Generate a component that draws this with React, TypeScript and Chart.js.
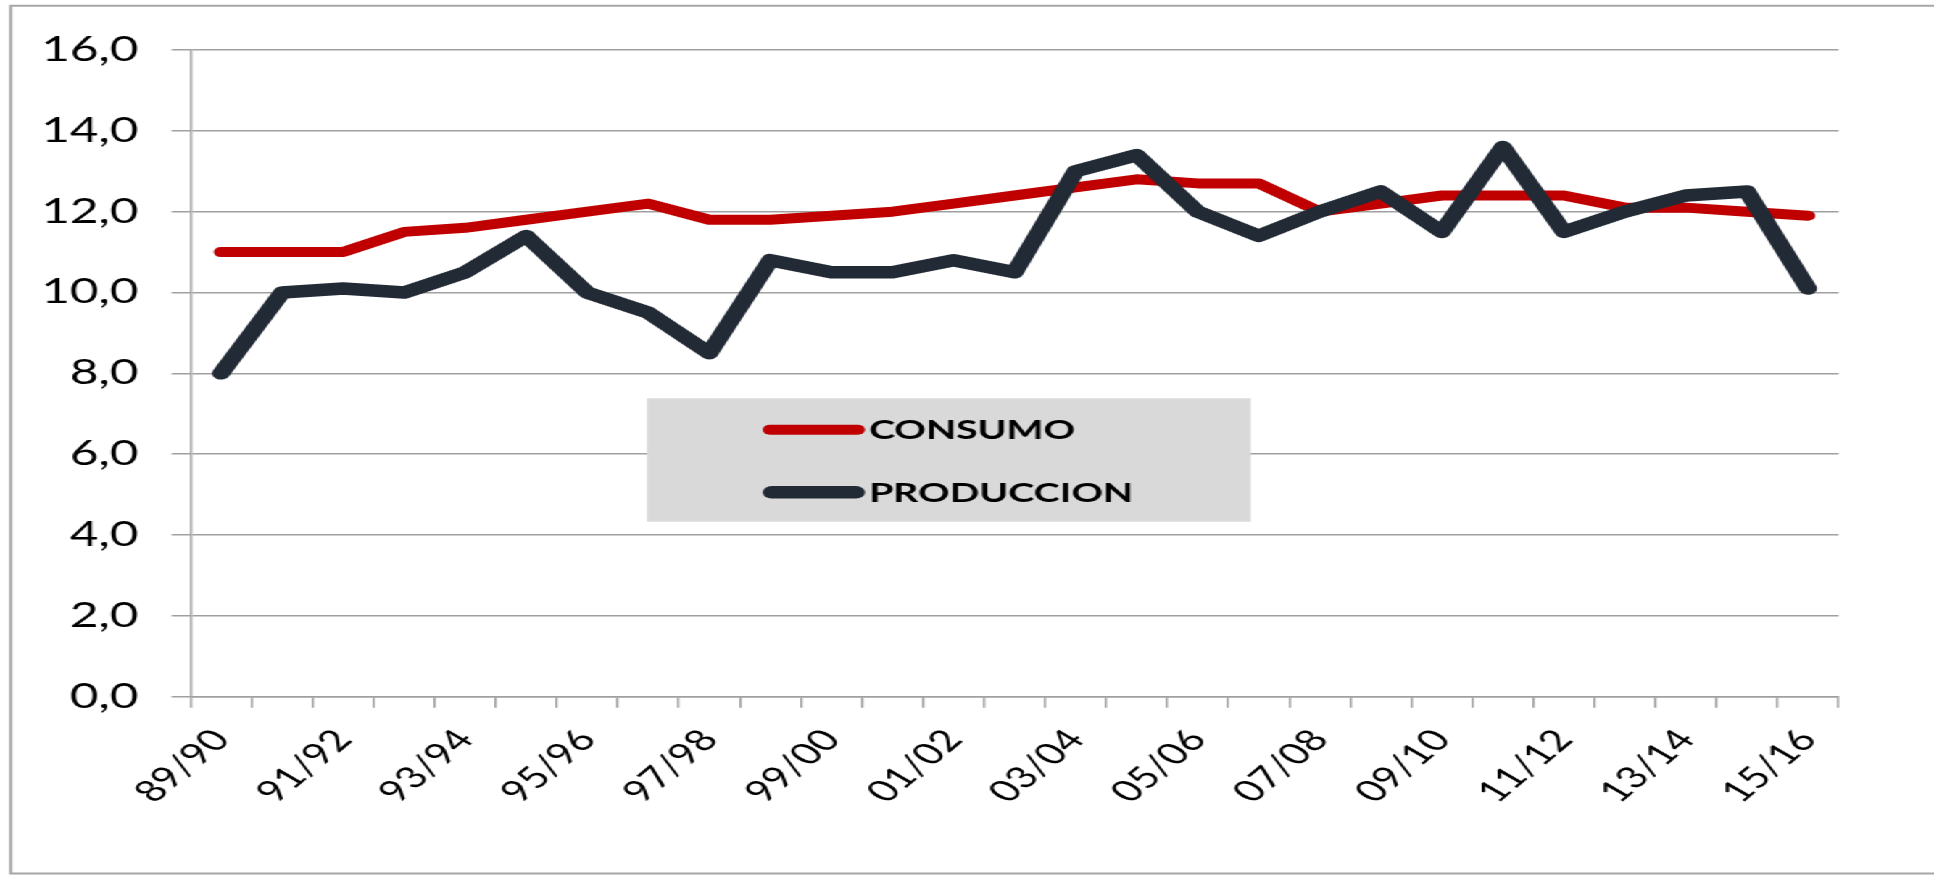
import React, { useEffect, useRef } from 'react';
import { Chart, registerables } from 'chart.js';

Chart.register(...registerables);

// ---- data ----
const categories = [
  '89/90', '90/91', '91/92', '92/93', '93/94', '94/95', '95/96', '96/97', '97/98',
  '98/99', '99/00', '00/01', '01/02', '02/03', '03/04', '04/05', '05/06', '06/07',
  '07/08', '08/09', '09/10', '10/11', '11/12', '12/13', '13/14', '14/15', '15/16',
];
const consumo = [
  11.0, 11.0, 11.0, 11.5, 11.6, 11.8, 12.0, 12.2, 11.8, 11.8, 11.9, 12.0, 12.2, 12.4,
  12.6, 12.8, 12.7, 12.7, 12.0, 12.2, 12.4, 12.4, 12.4, 12.1, 12.1, 12.0, 11.9,
];
const produccion = [
  8.0, 10.0, 10.1, 10.0, 10.5, 11.4, 10.0, 9.5, 8.5, 10.8, 10.5, 10.5, 10.8, 10.5,
  13.0, 13.4, 12.0, 11.4, 12.0, 12.5, 11.5, 13.6, 11.5, 12.0, 12.4, 12.5, 10.1,
];
const seriesNames = ['CONSUMO', 'PRODUCCION'];
const yMin = 0;
const yMax = 16;
const yStep = 2;

// ---- layout (the reference picture is horizontally stretched) ----
const FULL_W = 1934;
const FULL_H = 875;
const INT_W = 1334;
const STRETCH = FULL_W / INT_W;
const ix = (fullX: number) => fullX / STRETCH;

const AREA_LEFT = ix(190.5);
const AREA_RIGHT = ix(1838.6);
const AREA_TOP = 50;
const AREA_BOTTOM = 696.7;

const FONT = 'Lato';

const decorPlugin = {
  id: 'decor',
  beforeDraw(chart: any) {
    const { ctx, width, height } = chart;
    ctx.save();
    ctx.fillStyle = '#ffffff';
    ctx.fillRect(0, 0, width, height);
    ctx.strokeStyle = '#A6A6A6';
    ctx.lineWidth = 2;
    ctx.beginPath();
    ctx.moveTo(width + 10, 5.7);
    ctx.lineTo(ix(10.7), 5.7);
    ctx.lineTo(ix(10.7), 873.5);
    ctx.lineTo(width + 10, 873.5);
    ctx.stroke();
    ctx.restore();
  },
  afterDraw(chart: any) {
    const { ctx } = chart;
    ctx.save();
    const bx0 = ix(647);
    const bx1 = ix(1250.7);
    ctx.fillStyle = '#D9D9D9';
    ctx.fillRect(bx0, 398.3, bx1 - bx0, 521.7 - 398.3);
    const rows = [429.7, 492.3];
    chart.data.datasets.forEach((ds: any, i: number) => {
      const y = rows[i];
      const w = ds.borderWidth;
      ctx.strokeStyle = ds.borderColor;
      ctx.lineWidth = w;
      ctx.lineCap = 'round';
      ctx.beginPath();
      ctx.moveTo(ix(762.7) + w / 2, y);
      ctx.lineTo(ix(865) - w / 2, y);
      ctx.stroke();
      ctx.fillStyle = '#000000';
      ctx.font = `bold 27px ${FONT}`;
      ctx.textAlign = 'left';
      ctx.textBaseline = 'alphabetic';
      ctx.fillText(ds.label, ix(869), y + 9.7);
    });
    ctx.restore();
  },
};

export default function App() {
  const canvasRef = useRef<HTMLCanvasElement | null>(null);

  useEffect(() => {
    const canvas = canvasRef.current;
    if (!canvas) return;
    const gridColor = '#A0A0A0';
    const chart = new Chart(canvas, {
      type: 'line',
      data: {
        labels: categories,
        datasets: [
          {
            label: seriesNames[0],
            data: consumo,
            borderColor: '#C00000',
            backgroundColor: '#C00000',
            borderWidth: 10,
            pointRadius: 0,
            tension: 0,
            borderCapStyle: 'round',
            borderJoinStyle: 'round',
            order: 1,
          },
          {
            label: seriesNames[1],
            data: produccion,
            borderColor: '#222A35',
            backgroundColor: '#222A35',
            borderWidth: 12.5,
            pointRadius: 0,
            tension: 0,
            borderCapStyle: 'round',
            borderJoinStyle: 'round',
            order: 0,
          },
        ],
      },
      options: {
        responsive: false,
        animation: false,
        devicePixelRatio: 1,
        layout: {
          padding: { top: AREA_TOP, left: 0, right: INT_W - AREA_RIGHT, bottom: 0 },
        },
        plugins: {
          legend: { display: false },
          tooltip: { enabled: false },
          title: { display: false },
        },
        scales: {
          x: {
            type: 'category',
            offset: true,
            grid: {
              display: true,
              drawOnChartArea: false,
              drawTicks: true,
              tickLength: 11,
              offset: true,
              color: gridColor,
              lineWidth: 1.5,
            },
            border: { display: true, color: gridColor, width: 1.5 },
            ticks: {
              autoSkip: false,
              maxRotation: 50,
              minRotation: 50,
              padding: 15,
              color: '#000000',
              font: { family: FONT, size: 30 },
              callback: (_v: any, i: number) => (i % 2 === 0 ? categories[i] : ''),
            },
            afterFit: (s: any) => {
              s.height = FULL_H - AREA_BOTTOM;
            },
          },
          y: {
            min: yMin,
            max: yMax,
            grid: {
              color: gridColor,
              lineWidth: 1.5,
              drawTicks: true,
              tickLength: 13,
            },
            border: { display: true, color: gridColor, width: 1.5 },
            ticks: {
              stepSize: yStep,
              padding: 23,
              color: '#000000',
              font: { family: FONT, size: 34 },
              callback: (v: any) => Number(v).toFixed(1).replace('.', ','),
            },
            afterFit: (s: any) => {
              s.width = AREA_LEFT;
            },
          },
        },
      },
      plugins: [decorPlugin],
    });
    return () => chart.destroy();
  }, []);

  return (
    <div
      style={{
        position: 'fixed',
        left: 0,
        top: 0,
        width: INT_W,
        height: FULL_H,
        transform: `scaleX(${STRETCH})`,
        transformOrigin: '0 0',
        background: '#fff',
      }}
    >
      <canvas ref={canvasRef} width={INT_W} height={FULL_H} style={{ width: INT_W, height: FULL_H }} />
    </div>
  );
}
